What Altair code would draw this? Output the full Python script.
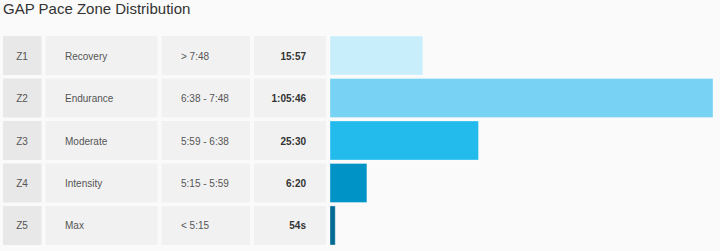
import altair as alt
import pandas as pd

zones = ["Z1", "Z2", "Z3", "Z4", "Z5"]
names = ["Recovery", "Endurance", "Moderate", "Intensity", "Max"]
ranges = ["> 7:48", "6:38 - 7:48", "5:59 - 6:38", "5:15 - 5:59", "< 5:15"]
time_labels = ["15:57", "1:05:46", "25:30", "6:20", "54s"]
seconds = [957, 3946, 1530, 380, 54]
colors = ["#c9eefb", "#78d2f4", "#22bbec", "#0093c6", "#006a94"]

df = pd.DataFrame({
    "zone": zones, "name": names, "range": ranges,
    "time": time_labels, "seconds": seconds,
})

FONT = "Liberation Sans"

y = alt.Y("zone:N", sort=zones, axis=None,
          scale=alt.Scale(range=[36, 245], paddingInner=0.08, paddingOuter=0))

base = alt.Chart(df)

def cell(x0, x1, fill):
    return base.mark_rect(color=fill).encode(y=y, x=alt.value(x0), x2=alt.value(x1))

cells = [
    cell(3, 41.5, "#e8e8e8"),
    cell(45.5, 157.5, "#f1f1f1"),
    cell(161.5, 250, "#f1f1f1"),
    cell(254, 326, "#f1f1f1"),
]

bars = base.mark_bar(stroke="white", strokeOpacity=0.35, strokeWidth=1).encode(
    y=y,
    x=alt.X("seconds:Q", axis=None,
            scale=alt.Scale(domain=[0, 3946], range=[330, 713], nice=False, zero=True)),
    color=alt.Color("zone:N", scale=alt.Scale(domain=zones, range=colors), legend=None),
)

def txt(field, x, align, bold=False, color="#555"):
    return base.mark_text(align=align, baseline="middle", font=FONT, fontSize=10,
                          fontWeight="bold" if bold else "normal", color=color, dy=1).encode(
        y=y, x=alt.value(x), text=f"{field}:N")

texts = [
    txt("zone", 22, "center"),
    txt("name", 65, "left"),
    txt("range", 181, "left"),
    txt("time", 306, "right", bold=True, color="#333"),
]

title = alt.Chart(pd.DataFrame({"t": ["GAP Pace Zone Distribution"]})).mark_text(
    align="left", baseline="alphabetic", font=FONT, fontSize=15, color="#333"
).encode(x=alt.value(3), y=alt.value(14), text="t:N")

chart = alt.layer(*cells, bars, *texts, title).properties(
    width=720, height=251, autosize=alt.AutoSizeParams(type="none"), padding=0,
    background="#fafafa",
).configure_view(stroke=None)

chart.save("out.html", embed_options={"renderer": "svg", "actions": False})
